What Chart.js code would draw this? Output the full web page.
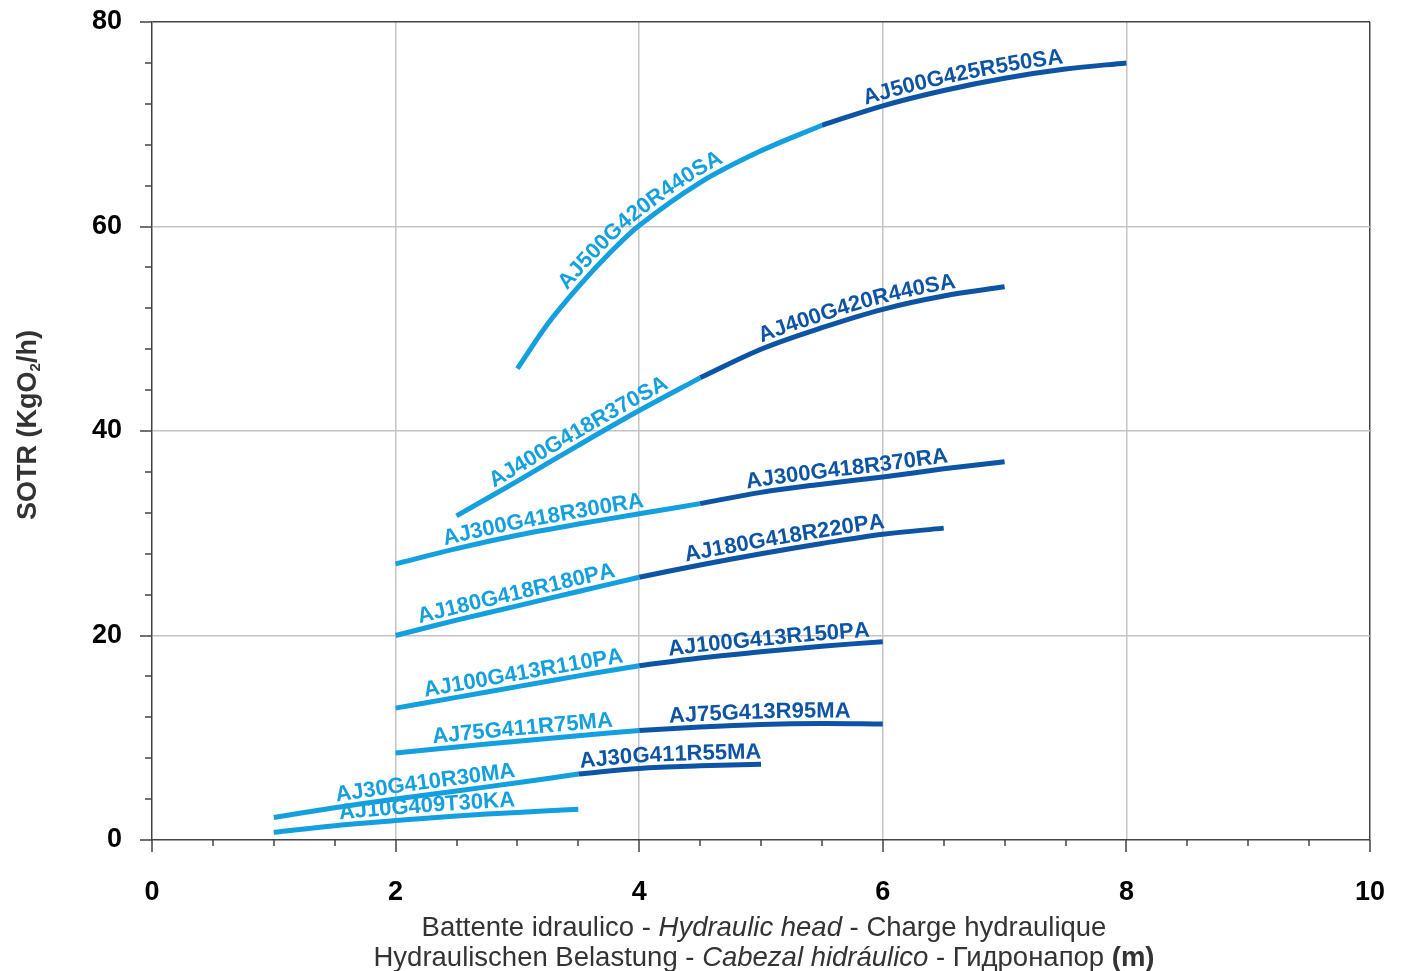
<!DOCTYPE html>
<html>
<head>
<meta charset="utf-8">
<script src="https://cdn.jsdelivr.net/npm/chart.js@4.4.0/dist/chart.umd.min.js"></script>
<style>
  html, body { margin: 0; padding: 0; background: #fff; }
  #wrap { width: 1401px; height: 971px; }
</style>
</head>
<body>
<div id="wrap"><canvas id="chart" width="1401" height="971"></canvas></div>
<script>
// hydraulic head (m) / SOTR (kgO2/h)
const aj10X = [1, 1.5, 2, 2.5, 3, 3.5];
const aj10Y = [0.75, 1.4, 1.9, 2.35, 2.7, 3.0];

const aj30aX = [1, 1.5, 2, 2.5, 3, 3.5];
const aj30aY = [2.2, 3.15, 4.0, 4.8, 5.6, 6.45];
const aj30bX = [3.5, 4, 4.5, 5];
const aj30bY = [6.45, 7.0, 7.25, 7.4];

const aj75aX = [2, 2.5, 3, 3.5, 4];
const aj75aY = [8.5, 9.1, 9.65, 10.2, 10.7];
const aj75bX = [4, 4.5, 5, 5.5, 6];
const aj75bY = [10.7, 11.05, 11.3, 11.4, 11.35];

const aj100aX = [2, 2.5, 3, 3.5, 4];
const aj100aY = [12.9, 13.95, 15.0, 16.05, 17.05];
const aj100bX = [4, 4.5, 5, 5.5, 6];
const aj100bY = [17.05, 17.8, 18.4, 18.95, 19.4];

const aj180aX = [2, 2.5, 3, 3.5, 4];
const aj180aY = [20.0, 21.5, 22.9, 24.3, 25.7];
const aj180bX = [4, 4.5, 5, 5.5, 6, 6.5];
const aj180bY = [25.7, 26.9, 28.0, 29.0, 29.9, 30.5];

const aj300aX = [2, 2.5, 3, 3.5, 4, 4.5];
const aj300aY = [27.0, 28.5, 29.8, 30.9, 31.9, 32.9];
const aj300bX = [4.5, 5, 5.5, 6, 6.5, 7];
const aj300bY = [32.9, 34.0, 34.8, 35.5, 36.3, 37.0];

const aj400aX = [2.5, 3, 3.5, 4, 4.5];
const aj400aY = [31.7, 35.1, 38.6, 42.0, 45.2];
const aj400bX = [4.5, 5, 5.5, 6, 6.5, 7];
const aj400bY = [45.2, 48.0, 50.1, 51.9, 53.2, 54.1];

const aj500aX = [3, 3.25, 3.5, 3.75, 4, 4.5, 5, 5.5];
const aj500aY = [46.1, 50.5, 54.1, 57.3, 60.1, 64.3, 67.4, 69.9];
const aj500bX = [5.5, 6, 6.5, 7, 7.5, 8];
const aj500bY = [69.9, 71.8, 73.3, 74.5, 75.4, 76.0];

const xTicks = [0, 2, 4, 6, 8, 10];
const yTicks = [0, 20, 40, 60, 80];

const LIGHT = '#14a0de';
const DARK = '#0d55a4';

const pts = (xs, ys) => xs.map((x, i) => ({ x: x, y: ys[i] }));

const series = [
    { name: 'AJ10G409T30KA', data: pts(aj10X, aj10Y), color: LIGHT },
    { name: 'AJ30G410R30MA', data: pts(aj30aX, aj30aY), color: LIGHT },
    { name: 'AJ30G411R55MA', data: pts(aj30bX, aj30bY), color: DARK },
    { name: 'AJ75G411R75MA', data: pts(aj75aX, aj75aY), color: LIGHT },
    { name: 'AJ75G413R95MA', data: pts(aj75bX, aj75bY), color: DARK },
    { name: 'AJ100G413R110PA', data: pts(aj100aX, aj100aY), color: LIGHT },
    { name: 'AJ100G413R150PA', data: pts(aj100bX, aj100bY), color: DARK },
    { name: 'AJ180G418R180PA', data: pts(aj180aX, aj180aY), color: LIGHT },
    { name: 'AJ180G418R220PA', data: pts(aj180bX, aj180bY), color: DARK },
    { name: 'AJ300G418R300RA', data: pts(aj300aX, aj300aY), color: LIGHT },
    { name: 'AJ300G418R370RA', data: pts(aj300bX, aj300bY), color: DARK },
    { name: 'AJ400G418R370SA', data: pts(aj400aX, aj400aY), color: LIGHT },
    { name: 'AJ400G420R440SA', data: pts(aj400bX, aj400bY), color: DARK },
    { name: 'AJ500G420R440SA', data: pts(aj500aX, aj500aY), color: LIGHT },
    { name: 'AJ500G425R550SA', data: pts(aj500bX, aj500bY), color: DARK }
];

// where each name starts along its curve (head value)
const labelStart = [1.54, 1.51, 3.52, 2.31, 4.24, 2.23, 4.24, 2.19, 4.38, 2.41, 4.89, 2.82, 5.01, 3.44, 5.86];

const FONT = '"Liberation Sans", Arial, Helvetica, sans-serif';

// build a fine polyline from chart.js bezier control points
function samplePath(points) {
    const out = [];
    for (let i = 0; i < points.length - 1; i++) {
        const a = points[i], b = points[i + 1];
        const c1x = a.cp2x !== undefined ? a.cp2x : a.x;
        const c1y = a.cp2y !== undefined ? a.cp2y : a.y;
        const c2x = b.cp1x !== undefined ? b.cp1x : b.x;
        const c2y = b.cp1y !== undefined ? b.cp1y : b.y;
        for (let s = 0; s < 24; s++) {
            const t = s / 24, u = 1 - t;
            out.push({
                x: u*u*u*a.x + 3*u*u*t*c1x + 3*u*t*t*c2x + t*t*t*b.x,
                y: u*u*u*a.y + 3*u*u*t*c1y + 3*u*t*t*c2y + t*t*t*b.y
            });
        }
    }
    const last = points[points.length - 1];
    out.push({ x: last.x, y: last.y });
    let len = 0;
    out[0].s = 0;
    for (let i = 1; i < out.length; i++) {
        len += Math.hypot(out[i].x - out[i-1].x, out[i].y - out[i-1].y);
        out[i].s = len;
    }
    return out;
}

function atLength(path, s) {
    let i = 1;
    while (i < path.length - 1 && path[i].s < s) i++;
    const a = path[i-1], b = path[i];
    const f = b.s > a.s ? (s - a.s) / (b.s - a.s) : 0;
    return {
        x: a.x + (b.x - a.x) * f,
        y: a.y + (b.y - a.y) * f,
        ang: Math.atan2(b.y - a.y, b.x - a.x)
    };
}

const curveLabels = {
    id: 'curveLabels',
    afterDatasetsDraw(chart) {
        const ctx = chart.ctx;
        const xs = chart.scales.x;
        ctx.save();
        ctx.font = 'bold 22px ' + FONT;
        ctx.textAlign = 'center';
        ctx.textBaseline = 'alphabetic';
        series.forEach((sr, i) => {
            const meta = chart.getDatasetMeta(i);
            const path = samplePath(meta.data);
            const px0 = xs.getPixelForValue(labelStart[i]);
            let k = 0;
            while (k < path.length - 1 && path[k].x < px0) k++;
            let s = path[k].s;
            ctx.fillStyle = sr.color;
            for (const ch of sr.name) {
                const w = ctx.measureText(ch).width;
                const p = atLength(path, s + w / 2);
                ctx.save();
                ctx.translate(p.x, p.y);
                ctx.rotate(p.ang);
                ctx.fillText(ch, 0, -6);
                ctx.restore();
                s += w;
            }
        });
        ctx.restore();
    }
};

const axisDecor = {
    id: 'axisDecor',
    afterDraw(chart) {
        const ctx = chart.ctx;
        const xs = chart.scales.x, ys = chart.scales.y;
        const area = chart.chartArea;
        ctx.save();
        ctx.strokeStyle = '#444';
        ctx.lineWidth = 1.5;
        ctx.beginPath();
        for (let v = 0; v <= 10.001; v += 0.5) {
            const px = Math.round(xs.getPixelForValue(v));
            const len = Math.abs(v % 2) < 0.01 ? 12 : 6;
            ctx.moveTo(px, area.bottom);
            ctx.lineTo(px, area.bottom + len);
        }
        for (let v = 0; v <= 80.001; v += 4) {
            const py = Math.round(ys.getPixelForValue(v));
            const len = Math.abs(v % 20) < 0.01 ? 12 : 7;
            ctx.moveTo(area.left, py);
            ctx.lineTo(area.left - len, py);
        }
        ctx.stroke();

        // y title with subscript
        ctx.fillStyle = '#333';
        ctx.translate(36, 425);
        ctx.rotate(-Math.PI / 2);
        const big = 'bold 27px ' + FONT, small = 'bold 15px ' + FONT;
        const p1 = 'SOTR (KgO', p2 = '2', p3 = '/h)';
        ctx.font = big; const w1 = ctx.measureText(p1).width, w3 = ctx.measureText(p3).width;
        ctx.font = small; const w2 = ctx.measureText(p2).width;
        let x = -(w1 + w2 + w3) / 2;
        ctx.textAlign = 'left';
        ctx.textBaseline = 'alphabetic';
        ctx.font = big; ctx.fillText(p1, x, 0); x += w1;
        ctx.font = small; ctx.fillText(p2, x, 4); x += w2;
        ctx.font = big; ctx.fillText(p3, x, 0);
        ctx.restore();

        // x title, two lines of mixed styles
        const lines = [
            [['Battente idraulico - ', ''], ['Hydraulic head', 'italic '], [' - Charge hydraulique', '']],
            [['Hydraulischen Belastung - ', ''], ['Cabezal hidráulico', 'italic '], [' - Гидронапор ', ''], ['(m)', 'bold ']]
        ];
        const baselines = [936, 966];
        const cx = (area.left + area.right) / 2 + 3;
        ctx.save();
        ctx.fillStyle = '#333';
        ctx.textAlign = 'left';
        ctx.textBaseline = 'alphabetic';
        lines.forEach((parts, li) => {
            let total = 0;
            parts.forEach(p => { ctx.font = p[1] + '27.5px ' + FONT; total += ctx.measureText(p[0]).width; });
            let px = cx - total / 2;
            parts.forEach(p => {
                ctx.font = p[1] + '27.5px ' + FONT;
                ctx.fillText(p[0], px, baselines[li]);
                px += ctx.measureText(p[0]).width;
            });
        });
        ctx.restore();
    }
};

new Chart(document.getElementById('chart'), {
    type: 'line',
    data: {
        datasets: series.map(sr => ({
            label: sr.name,
            data: sr.data,
            borderColor: sr.color,
            borderWidth: 5,
            borderCapStyle: 'butt',
            pointRadius: 0,
            fill: false,
            tension: 0.35
        }))
    },
    options: {
        responsive: false,
        animation: false,
        devicePixelRatio: 1,
        layout: { padding: { top: 22, right: 31, left: 0, bottom: 0 } },
        plugins: { legend: { display: false }, tooltip: { enabled: false } },
        scales: {
            x: {
                type: 'linear', min: 0, max: 10,
                afterBuildTicks: s => { s.ticks = xTicks.map(v => ({ value: v })); },
                afterFit: s => { s.height = 131; s.paddingLeft = 0; s.paddingRight = 0; },
                ticks: { color: '#000', font: { family: FONT, size: 27, weight: 'bold' }, padding: 36, maxRotation: 0 },
                grid: {
                    drawTicks: false,
                    lineWidth: 1.5,
                    color: c => (c.tick && c.tick.value === 10) ? '#444' : (c.tick && c.tick.value > 0 ? '#c4c4c4' : 'transparent')
                },
                border: { color: '#444', width: 1.5 }
            },
            y: {
                min: 0, max: 80,
                afterBuildTicks: s => { s.ticks = yTicks.map(v => ({ value: v })); },
                afterFit: s => { s.width = 152; s.paddingTop = 0; s.paddingBottom = 0; },
                ticks: { color: '#000', font: { family: FONT, size: 27, weight: 'bold' }, padding: 30 },
                grid: {
                    drawTicks: false,
                    lineWidth: 1.5,
                    color: c => (c.tick && c.tick.value === 80) ? '#444' : (c.tick && c.tick.value > 0 ? '#c4c4c4' : 'transparent')
                },
                border: { color: '#444', width: 1.5 }
            }
        }
    },
    plugins: [curveLabels, axisDecor]
});
</script>
</body>
</html>
